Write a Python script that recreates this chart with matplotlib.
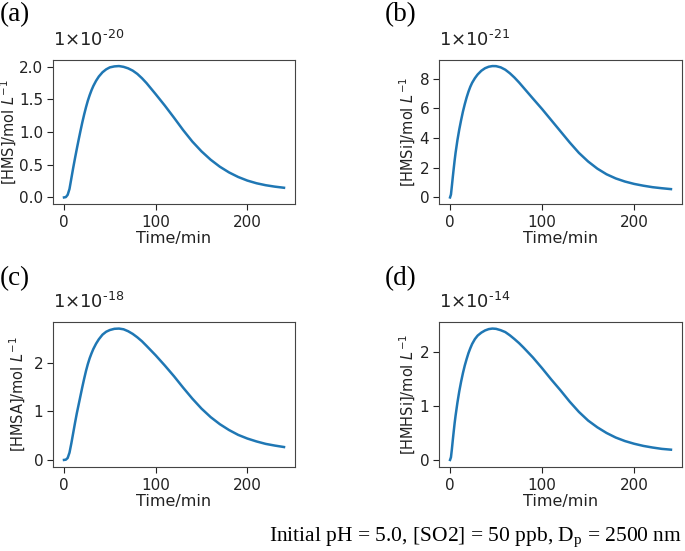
import matplotlib
matplotlib.use("Agg")
import matplotlib.pyplot as plt

# time axis (min) and concentrations (scaled units)
t_a = [0, 2, 4, 6, 8, 10, 12, 14, 16, 18, 20, 22, 24, 26, 28, 30, 32, 35, 38, 42, 46, 50, 55,
       60, 65, 70, 75, 80, 85, 90, 100, 110, 120, 130, 140, 150, 160, 170, 180, 190, 200, 210,
       220, 230, 240]
hms = [0.0, 0.005, 0.04, 0.13, 0.29, 0.45, 0.60, 0.745, 0.885, 1.02, 1.15, 1.27, 1.38, 1.48,
       1.565, 1.64, 1.705, 1.785, 1.85, 1.915, 1.96, 1.99, 2.005, 2.01, 1.998, 1.975, 1.94,
       1.89, 1.825, 1.75, 1.58, 1.405, 1.22, 1.03, 0.855, 0.705, 0.577, 0.47, 0.383, 0.313,
       0.258, 0.217, 0.187, 0.165, 0.148]
hmsa = [0.0, 0.005, 0.04, 0.15, 0.34, 0.55, 0.76, 0.96, 1.14, 1.32, 1.50, 1.67, 1.83, 1.97,
        2.09, 2.19, 2.28, 2.39, 2.48, 2.575, 2.635, 2.67, 2.695, 2.70, 2.685, 2.645, 2.59,
        2.52, 2.44, 2.345, 2.15, 1.94, 1.72, 1.485, 1.26, 1.055, 0.88, 0.735, 0.615, 0.515,
        0.44, 0.38, 0.33, 0.295, 0.265]

t_b = [0, 1, 2, 3, 4, 5, 6, 8, 10, 12, 14, 16, 18, 20, 22, 24, 27, 30, 34, 38, 42, 46, 50, 55,
       60, 65, 70, 75, 80, 85, 90, 100, 110, 120, 130, 140, 150, 160, 170, 180, 190, 200, 210,
       220, 230, 240]
hmsi = [0.0, 0.2, 0.78, 1.38, 1.95, 2.5, 3.0, 3.85, 4.57, 5.2, 5.78, 6.28, 6.73, 7.12, 7.45,
        7.72, 8.03, 8.28, 8.53, 8.7, 8.8, 8.845, 8.84, 8.76, 8.6, 8.36, 8.07, 7.74, 7.38, 7.02,
        6.66, 5.95, 5.2, 4.45, 3.7, 3.0, 2.42, 1.94, 1.56, 1.28, 1.07, 0.91, 0.79, 0.69, 0.62,
        0.56]
hmhsi = [0.0, 0.05, 0.2, 0.37, 0.53, 0.685, 0.82, 1.06, 1.27, 1.45, 1.61, 1.75, 1.87, 1.98,
         2.07, 2.15, 2.24, 2.305, 2.36, 2.40, 2.425, 2.435, 2.43, 2.405, 2.37, 2.31, 2.24,
         2.165, 2.08, 1.99, 1.90, 1.70, 1.49, 1.29, 1.08, 0.89, 0.73, 0.605, 0.50, 0.415,
         0.35, 0.30, 0.26, 0.23, 0.205, 0.19]

panels = ["(a)", "(b)", "(c)", "(d)"]
ylabels = ["[HMS]/mol $L^{-1}$", "[HMSi]/mol $L^{-1}$", "[HMSA]/mol $L^{-1}$", "[HMHSi]/mol $L^{-1}$"]
exponents = ["-20", "-21", "-18", "-14"]
xdata = [t_a, t_b, t_a, t_b]
ydata = [hms, hmsi, hmsa, hmhsi]
yticks = [[0.0, 0.5, 1.0, 1.5, 2.0], [0, 2, 4, 6, 8], [0, 1, 2], [0, 1, 2]]
xticks = [0, 100, 200]
note = "Initial pH = 5.0, [SO2] = 50 ppb, D$_\\mathregular{p}$ = 2500 nm"

W, H = 685, 551
fig = plt.figure(figsize=(W / 100, H / 100), dpi=100)

# axes boxes in pixels: left, top, right, bottom
boxes = [(53, 59.5, 295, 204), (439, 59.5, 682, 204),
         (53, 322, 295, 466.5), (439, 322, 682, 466.5)]
letter_pos = [(0, 2), (385, 2), (0, 266), (385, 266)]
ylabel_right = [19, 418, 28, 418]  # right edge of the rotated y label, px

for i in range(4):
    l, t, r, b = boxes[i]
    ax = fig.add_axes([l / W, 1 - b / H, (r - l) / W, (b - t) / H])
    ax.plot(xdata[i], ydata[i], color="#1f77b4", lw=1.8)
    ax.set_xticks(xticks)
    ax.set_yticks(yticks[i])
    if i == 0:
        ax.set_yticklabels(["%.1f" % v for v in yticks[i]])
    ax.tick_params(labelsize=11, colors="#222222", length=4.5, width=0.8)
    ax.tick_params(axis="y", pad=2.5)
    ax.set_xlabel("Time/min", fontsize=11.5, labelpad=1, color="#222222")
    ax.set_ylabel(ylabels[i], fontsize=10.5, color="#222222")
    ax.yaxis.set_label_coords((ylabel_right[i] - l) / (r - l), 0.5)
    for s in ax.spines.values():
        s.set_color("#444444")
    ax.text(0, 1 + 13.5 / (b - t), "1×10$^{\\text{%s}}$" % exponents[i],
            transform=ax.transAxes, fontsize=13, va="baseline", ha="left", color="#222222")
    lx, ly = letter_pos[i]
    fig.text(lx / W, 1 - ly / H, panels[i], fontsize=19.5, family="Liberation Serif",
             va="top", ha="left")

fig.text(682 / W, 1 - 541 / H, note, fontsize=15.5, family="Liberation Serif",
         ha="right", va="baseline")

fig.savefig("out.png", dpi=100)
